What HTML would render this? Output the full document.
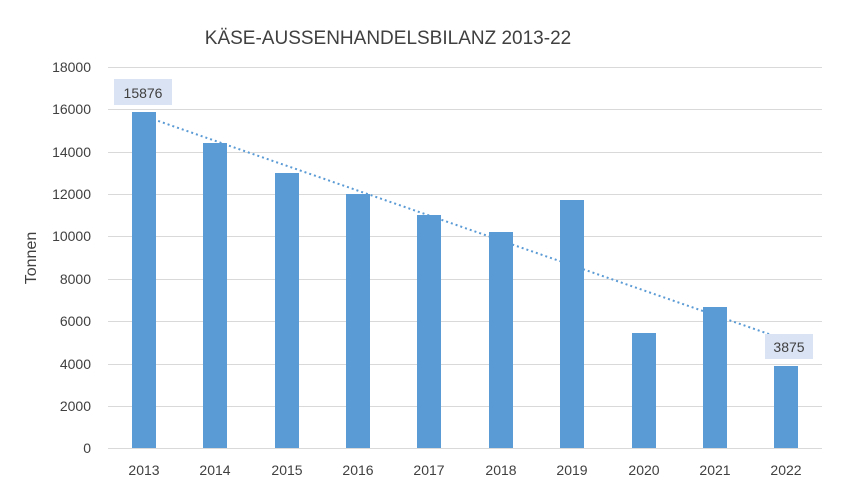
<!DOCTYPE html>
<html><head><meta charset="utf-8"><style>body{margin:0;background:#fff}</style></head><body>
<svg width="858" height="484" xmlns="http://www.w3.org/2000/svg" font-family="Liberation Sans, sans-serif">
<rect width="858" height="484" fill="#fff"/>
<text x="388" y="44" font-size="19" fill="#404040" text-anchor="middle">KÄSE-AUSSENHANDELSBILANZ 2013-22</text>
<g stroke="#d9d9d9" stroke-width="1">
<line x1="108" x2="822" y1="67.5" y2="67.5"/><line x1="108" x2="822" y1="109.5" y2="109.5"/>
<line x1="108" x2="822" y1="152.5" y2="152.5"/><line x1="108" x2="822" y1="194.5" y2="194.5"/>
<line x1="108" x2="822" y1="236.5" y2="236.5"/><line x1="108" x2="822" y1="279.5" y2="279.5"/>
<line x1="108" x2="822" y1="321.5" y2="321.5"/><line x1="108" x2="822" y1="364.5" y2="364.5"/>
<line x1="108" x2="822" y1="406.5" y2="406.5"/><line x1="108" x2="822" y1="448.5" y2="448.5"/>
</g>
<g font-size="14" fill="#404040" text-anchor="end">
<text x="91" y="72">18000</text><text x="91" y="114">16000</text><text x="91" y="157">14000</text>
<text x="91" y="199">12000</text><text x="91" y="241">10000</text><text x="91" y="284">8000</text>
<text x="91" y="326">6000</text><text x="91" y="369">4000</text><text x="91" y="411">2000</text><text x="91" y="453">0</text>
</g>
<text transform="translate(36,258) rotate(-90)" font-size="16" fill="#404040" text-anchor="middle">Tonnen</text>
<g fill="#5b9bd5">
<rect x="132" y="112" width="24" height="336"/>
<rect x="203" y="143" width="24" height="305"/>
<rect x="275" y="173" width="24" height="275"/>
<rect x="346" y="194" width="24" height="254"/>
<rect x="417" y="215" width="24" height="233"/>
<rect x="489" y="232" width="24" height="216"/>
<rect x="560" y="200" width="24" height="248"/>
<rect x="632" y="333" width="24" height="115"/>
<rect x="703" y="307" width="24" height="141"/>
<rect x="774" y="366" width="24" height="82"/>
</g>
<line x1="144" y1="116" x2="786" y2="340" stroke="#5b9bd5" stroke-width="2" stroke-dasharray="2,3"/>
<rect x="114" y="79" width="58" height="26" fill="#dae3f3"/>
<text x="143" y="98" font-size="14" fill="#404040" text-anchor="middle">15876</text>
<rect x="765" y="334" width="48" height="25" fill="#dae3f3"/>
<text x="789" y="352" font-size="14" fill="#404040" text-anchor="middle">3875</text>
<g font-size="14" fill="#404040" text-anchor="middle">
<text x="144" y="475">2013</text><text x="215" y="475">2014</text><text x="287" y="475">2015</text>
<text x="358" y="475">2016</text><text x="429" y="475">2017</text><text x="501" y="475">2018</text>
<text x="572" y="475">2019</text><text x="644" y="475">2020</text><text x="715" y="475">2021</text><text x="786" y="475">2022</text>
</g>
</svg>
</body></html>
